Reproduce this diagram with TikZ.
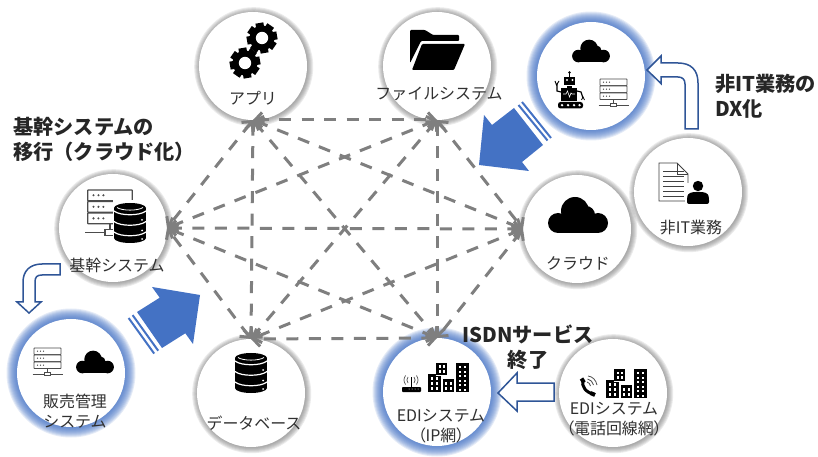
\documentclass[tikz,border=0pt]{standalone}
\usepackage{fontspec}
\setmainfont{Noto Sans CJK JP}
\newfontfamily\cjkprop[RawFeature=+palt]{Noto Sans CJK JP}
\usetikzlibrary{arrows.meta}
\definecolor{linkgrey}{HTML}{7F7F7F}
\definecolor{bigblue}{HTML}{4472C4}
\definecolor{edgeblue}{HTML}{2F5597}
\definecolor{labelink}{HTML}{303030}
\tikzset{
  disc/.style={circle,fill=white,minimum size=108bp,inner sep=0pt,outer sep=0pt},
  lab/.style={font=\fontsize{16}{20}\selectfont,text=labelink,inner sep=0pt,align=center},
  headline/.style={font=\fontsize{20.3}{25}\selectfont\bfseries,text=black!85,inner sep=0pt},
  link/.style={draw=linkgrey,line width=3bp,dash pattern=on 12bp off 10.5bp,
    {Straight Barb[length=7bp,width=15bp]}-{Straight Barb[length=7bp,width=15bp]}},
  outlinearrow/.style={draw=edgeblue,fill=white,line width=1.5bp,line join=miter},
  stripe/.style={draw=bigblue,line width=2bp},
  cloudicon/.pic={
    \fill (-20,8) circle[radius=10];
    \fill (-3,-4) circle[radius=14];
    \fill (8,0) circle[radius=9];
    \fill (20,8) circle[radius=10];
    \fill (-20,4) rectangle (20,18);
  },
  servericon/.pic={
    \foreach \t in {0,7,14}{
      \draw[draw=black!70,fill=white,rounded corners=.5bp] (-13.5,\t) rectangle (13.5,\t+6.5);
      \foreach \d in {-10,-7,-4} \fill[black!70] (\d,\t+3.2) circle[radius=.7];
    }
    \draw[black!70] (0,20.5) -- (0,24);
    \draw[black!70] (-15,26) -- (15,26);
    \draw[draw=black!70,fill=white] (-3,24) rectangle (3,27.5);
  },
  dbicon/.pic={
    \fill (0,-15) ellipse[x radius=16,y radius=5];
    \fill (-16,-15) rectangle (16,15);
    \fill (0,15) ellipse[x radius=16,y radius=5];
    \foreach \v in {-9,1.5,12}{
      \draw[white,line width=1.2bp] (-16,\v-3) .. controls (-10,\v+2) and (10,\v+2) .. (16,\v-3);
    }
    \foreach \v in {-3,7.5,16} \fill[white] (12,\v) circle[radius=1];
    \draw[white,line width=.8bp] (-13,-15.5) .. controls (-8,-12) and (8,-12) .. (13,-15.5);
  },
  gearicon/.pic={
    \foreach \a in {0,45,...,315}{
      \fill[rotate=\a+10] (-4,-15.2) rectangle (4,-10);
    }
    \fill (0,0) circle[radius=12.6];
    \fill[white] (0,0) circle[radius=6.2];
  },
  towericon/.pic={
    \fill (0,-18) rectangle (13,0);
    \fill (8,-29) rectangle (19,-17);
    \draw[white,line width=.7bp] (7.6,-17) -- (19,-17) (13.4,-17) -- (13.4,-12);
    \fill (14.5,-13) rectangle (26,0);
    \fill (28,-29) rectangle (41,0);
    \foreach \wx in {2.5,7.8}\foreach \wy in {-15,-10,-5} \fill[white] (\wx,\wy) rectangle +(2.4,2.6);
    \foreach \wx in {10.5,14.7}\foreach \wy in {-26.5,-22} \fill[white] (\wx,\wy) rectangle +(2.2,2.6);
    \foreach \wx in {17.2,21.5}\foreach \wy in {-10,-5} \fill[white] (\wx,\wy) rectangle +(2.2,2.6);
    \foreach \wx in {30.5,35.5}\foreach \wy in {-26,-21.5,-17,-12.5,-8,-3.5} \fill[white] (\wx,\wy) rectangle +(2.2,2.3);
  },
}
\begin{document}
\begin{tikzpicture}[x=1bp,y=-1bp]
\useasboundingbox (0,0) rectangle (818,457);
% soft halos
\foreach \cx/\cy in {253/66,437/66,688/192,577/229,113/228,251/393,613/393}{
  \foreach \i in {1,...,6}
    \fill[black!55,opacity=.14] (\cx+.7,\cy+.7) circle[radius=53.5+\i];
}
\foreach \cx/\cy in {591/76,71/373,437/392}{
  \foreach \i in {1,...,11}
    \fill[bigblue,opacity=.14] (\cx,\cy) circle[radius=53.5+\i];
}
% discs
\node[disc] (app) at (253,66) {};
\node[disc] (file) at (437,66) {};
\node[disc] (robot) at (591,76) {};
\node[disc] (biz) at (688,192) {};
\node[disc] (cloud) at (577,229) {};
\node[disc] (core) at (113,228) {};
\node[disc] (sales) at (71,373) {};
\node[disc] (db) at (251,393) {};
\node[disc] (ediip) at (437,392) {};
\node[disc] (ediphone) at (613,393) {};
% mesh of links
\draw[link] (app.south) -- (file.south);
\draw[link] (app.south) -- (cloud.west);
\draw[link] (app.south) -- (ediip.north);
\draw[link] (app.south) -- (db.north);
\draw[link] (app.south) -- (core.east);
\draw[link] (file.south) -- (cloud.west);
\draw[link] (file.south) -- (ediip.north);
\draw[link] (file.south) -- (db.north);
\draw[link] (file.south) -- (core.east);
\draw[link] (cloud.west) -- (ediip.north);
\draw[link] (cloud.west) -- (db.north);
\draw[link] (cloud.west) -- (core.east);
\draw[link] (ediip.north) -- (db.north);
\draw[link] (ediip.north) -- (core.east);
\draw[link] (db.north) -- (core.east);
% big block arrows
\fill[bigblue] (137,312) -- (159.7,297.7) -- (152,287) -- (200,295) -- (193,344) -- (185.3,333.3) -- (162,348) -- cycle;
\draw[stripe] (132.6,315.1) -- (158.2,350.7);
\draw[stripe] (128.6,318) -- (154.2,353.6);
\fill[bigblue] (514,108) -- (492,125) -- (484,115) -- (479,165) -- (529,171) -- (522,162) -- (543,145) -- cycle;
\draw[stripe] (518.5,105) -- (547.5,140.5);
\draw[stripe] (522,102) -- (551,138);
% outline arrows
\draw[outlinearrow] (647,70) -- (661,56) -- (661,63) -- (678,63) .. controls (691,63) and (698,70) .. (698,83) -- (698,129) -- (685,129) -- (685,84) .. controls (685,79) and (682,77) .. (678,77) -- (661,77) -- (661,83.5) -- cycle;
\draw[outlinearrow] (60,264) -- (42,264) .. controls (30,264) and (23,271) .. (23,282) -- (23,302) -- (17,302) -- (29,313) -- (41,302) -- (35,302) -- (35,282) .. controls (35,277) and (37,275) .. (42,275) -- (60,275) -- cycle;
\draw[outlinearrow] (498,393) -- (517,373) -- (517,383) -- (554,383) -- (554,401) -- (517,401) -- (517,411) -- cycle;
% icons
\pic at (262,38) {gearicon};
\pic at (245,63) {gearicon};
\fill[rounded corners=1bp] (410,30) -- (425,30) -- (433,35) -- (459,35) -- (459,41) -- (421,41) -- (410,63) -- cycle;
\fill[rounded corners=1bp] (422,44) -- (465,44) -- (454,70) -- (412,70) -- cycle;
\pic at (578,215) {cloudicon};
\pic[scale=.63] at (591,51) {cloudicon};
\pic[scale=.63] at (95,362) {cloudicon};
\pic[line width=.8bp] at (47.5,348) {servericon};
\pic[line width=.8bp] at (613.5,79) {servericon};
\pic[scale=1.65,line width=1.2bp] at (110,190) {servericon};
\fill[white] (113,200.5) rectangle (148,244);
\pic at (130,223) {dbicon};
\pic at (251,373) {dbicon};
% robot
\fill (564,77) rectangle (575,85);
\draw[line width=1bp] (569.5,73) -- (569.5,77);
\fill (569.5,72.5) circle[radius=1.4];
\fill[white] (567,80) circle[radius=1.2] (572.5,80) circle[radius=1.2];
\fill (567,86) rectangle (572,88);
\fill (561,88) rectangle (577,101);
\draw[white,line width=.6bp] (563,94) -- (566,94) -- (567.5,91) -- (569.5,97) -- (571,93) -- (572,94) -- (575,94);
\fill[rounded corners=2.5bp] (558,102) rectangle (583,108.5);
\fill[white] (562,105.2) circle[radius=1.3] (568,105.2) circle[radius=1.3] (574,105.2) circle[radius=1.3] (579.5,105.2) circle[radius=1.3];
\draw[line width=1.2bp] (561,92) -- (557,91) -- (557,84);
\draw[line width=.9bp] (555,81) -- (556.5,85) -- (559,81);
\draw[line width=1.2bp] (577,91) -- (581,92) -- (583,98);
\draw[line width=.8bp] (581.5,100) -- (583,97) -- (584.5,100);
% document and person
\draw[draw=black!75,fill=white,line width=.9bp] (659,163) -- (677,163) -- (688,174) -- (688,201) -- (659,201) -- cycle;
\draw[draw=black!75,line width=.9bp] (677,163) -- (677,174) -- (688,174);
\foreach \ly in {171,176,181,186,191,196}
  \draw[black!75,line width=.9bp] (663,\ly) -- (684,\ly);
\fill[white] (685,183) rectangle (711,205);
\fill (698,186) circle[radius=5.2];
\fill[rounded corners=2bp] (687,204) -- (687,198) .. controls (688,193) and (692,192) .. (698,192) .. controls (704,192) and (708,193) .. (709,198) -- (709,204) -- cycle;
% router
\fill[rounded corners=.8bp] (402,387) rectangle (421,392);
\foreach \wx in {409,412,415,418} \fill[white] (\wx,389) circle[radius=.5];
\draw[line width=1bp] (411,377) -- (411,387);
\draw[black!70,line width=.7bp] (408,377) .. controls (406.5,379) and (406.5,381) .. (408,383);
\draw[black!70,line width=.7bp] (414,377) .. controls (415.5,379) and (415.5,381) .. (414,383);
\draw[black!70,line width=.7bp] (405.5,375.5) .. controls (403.5,379) and (403.5,381) .. (405.5,384.5);
\draw[black!70,line width=.7bp] (416.5,375.5) .. controls (418.5,379) and (418.5,381) .. (416.5,384.5);
\pic at (428,392) {towericon};
\pic at (606,398) {towericon};
% phone
\draw[line width=3bp] (583,380) .. controls (581,386) and (586,393) .. (594,394);
\draw[line width=4bp] (581.5,378.5) -- (584,382.5);
\draw[line width=4bp] (590.5,393) -- (595,395);
\draw[black!70,line width=.8bp] (587,382) .. controls (589,382.5) and (590,384) .. (590.5,386);
\draw[black!70,line width=.8bp] (587.5,379) .. controls (590.5,379.5) and (593,382) .. (593.5,385);
\draw[black!70,line width=.8bp] (588,376) .. controls (592.5,376.5) and (596,380) .. (597,385);
% labels
\node[lab] (tapp) at (253,98) {アプリ};
\node[lab] (tfile) at (439,94) {ファイルシステム};
\node[lab] (tcore) at (117,265) {基幹システム};
\node[lab] (tsales) at (75,411) {販売管理\\システム};
\node[lab] (tdb) at (254,423) {データベース};
\node[lab] (tcloud) at (578,263) {クラウド};
\node[lab] (tbiz) at (691,228) {非IT業務};
\node[lab] (tip) at (441,426) {EDIシステム\\{\cjkprop （IP網）}};
\node[lab] (tphone) at (614,419) {EDIシステム\\{\cjkprop （電話回線網）}};
\node[headline,anchor=west,align=left] (hcore) at (13,139.5) {基幹システムの\\移行（クラウド化）};
\node[headline,anchor=west,align=left] (hbiz) at (715,96.5) {非IT業務の\\DX化};
\node[headline,align=center] (hisdn) at (528,347.5) {ISDNサービス\\終了};
\end{tikzpicture}
\end{document}
